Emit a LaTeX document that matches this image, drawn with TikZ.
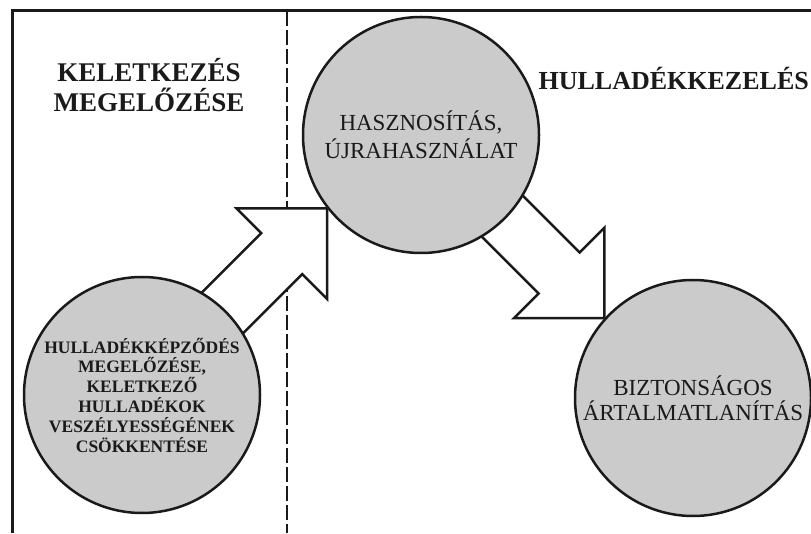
\documentclass[tikz,border=0pt]{standalone}
\usepackage{fontspec}
\setmainfont{Liberation Serif}
\usetikzlibrary{backgrounds}
\definecolor{korszurke}{HTML}{CBCBCB}
\definecolor{vonal}{HTML}{1A1A1A}
\tikzset{
  kor/.style={circle, draw=vonal, line width=2.5pt, fill=korszurke, minimum size=236pt, inner sep=0pt, align=center, text=vonal},
  nagynyil/.style={draw=vonal, line width=2.5pt, fill=white, line join=miter},
  fejlec/.style={font=\fontsize{27}{30}\selectfont\bfseries, text=vonal, inner sep=0pt, align=center},
}
\begin{document}
\begin{tikzpicture}[x=1pt,y=1pt]
\useasboundingbox (0,0) rectangle (811,533);
% korok
\node[kor, font=\fontsize{23}{28}\selectfont] (hasz) at (421,398) {HASZNOSÍTÁS,\\ÚJRAHASZNÁLAT};
\node[kor, font=\fontsize{17.5}{19.8}\selectfont\bfseries] (megel) at (142,138) {HULLADÉKKÉPZŐDÉS\\MEGELŐZÉSE,\\KELETKEZŐ\\HULLADÉKOK\\VESZÉLYESSÉGÉNEK\\CSÖKKENTÉSE};
\node[kor, font=\fontsize{23}{25}\selectfont] (bizt) at (693,135) {BIZTONSÁGOS\\ÁRTALMATLANÍTÁS};
% feliratok
\node[fejlec, anchor=south] (keletk) at (149,421) {KELETKEZÉS\\MEGELŐZÉSE};
\node[fejlec, font=\fontsize{26}{30}\selectfont\bfseries, anchor=base east] (hullkez) at (809,443) {HULLADÉKKEZELÉS};
% keret, szaggatott vonal, nyilak
\begin{scope}[on background layer]
\draw[vonal, line width=3pt] (811,522) -| (12,0);
\draw[vonal, line width=2.5pt, dash pattern=on 15pt off 4pt] (287,522) -- (287,0);
\draw[nagynyil, shift={(hasz.218)}, rotate=45] (0,0) -- (-64,64) -- (-64,29) -- (-263,29) -- (-263,-29) -- (-64,-29) -- (-64,-64) -- cycle;
\draw[nagynyil, shift={(bizt.138)}, rotate=-45] (0,0) -- (-64,64) -- (-64,29) -- (-263,29) -- (-263,-29) -- (-64,-29) -- (-64,-64) -- cycle;
\end{scope}
\end{tikzpicture}
\end{document}
